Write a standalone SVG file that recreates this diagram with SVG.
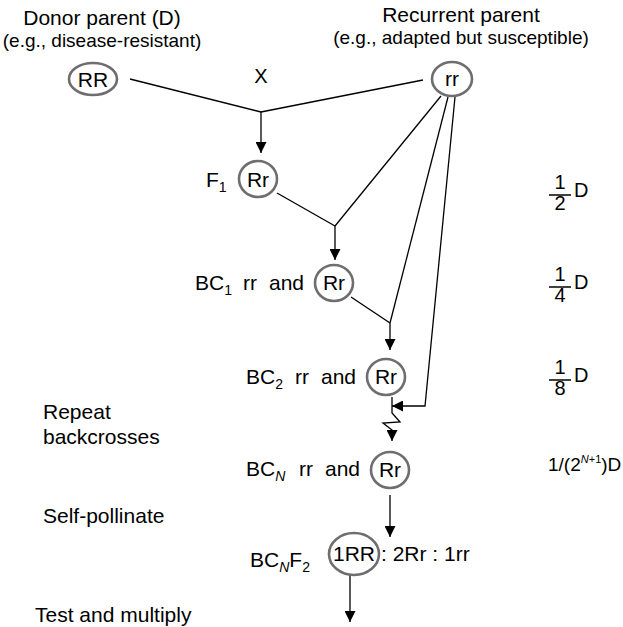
<svg xmlns="http://www.w3.org/2000/svg" width="623" height="627" viewBox="0 0 623 627">
<defs>
<style>
text{font-family:"Liberation Sans",Arial,Helvetica,sans-serif;fill:#000;font-size:21px}
.sub{font-size:19px}
.s{font-size:14px}
.node{fill:none;stroke:#6e6e6e;stroke-width:2.6}
.c{fill:none;stroke:#000;stroke-width:1.3}
.mid{text-anchor:middle}
.fr{font-size:20px}
</style>
<marker id="ah" markerUnits="userSpaceOnUse" markerWidth="11" markerHeight="11" refX="11" refY="5.5" orient="auto" viewBox="0 0 11 11"><path d="M0,0 L11,5.5 L0,11 z" fill="#000"/></marker>
</defs>
<g id="titles">
<text x="102" y="25" class="mid">Donor parent (D)</text>
<text x="102" y="47" class="mid sub">(e.g., disease-resistant)</text>
<text x="461" y="22" class="mid">Recurrent parent</text>
<text x="461" y="44" class="mid sub">(e.g., adapted but susceptible)</text>
<text x="261" y="83" class="mid" style="font-size:20px">X</text>
</g>
<g id="steps">
<text x="43" y="419">Repeat</text>
<text x="43" y="444">backcrosses</text>
<text x="43" y="523">Self-pollinate</text>
<text x="35" y="622">Test and multiply</text>
</g>
<g id="connectors">
<line class="c" x1="130" y1="79" x2="261" y2="112"/>
<line class="c" x1="423" y1="80" x2="261" y2="112"/>
<line class="c" x1="261" y1="112" x2="261" y2="153" marker-end="url(#ah)"/>
<line class="c" x1="277" y1="193" x2="335" y2="226"/>
<line class="c" x1="441" y1="96" x2="335" y2="226"/>
<line class="c" x1="335" y1="226" x2="335" y2="260" marker-end="url(#ah)"/>
<line class="c" x1="351" y1="297" x2="390" y2="323"/>
<line class="c" x1="448" y1="97" x2="390" y2="323"/>
<line class="c" x1="390" y1="323" x2="390" y2="350" marker-end="url(#ah)"/>
<polyline class="c" points="455,97 425,406 392,406" marker-end="url(#ah)"/>
<polyline class="c" points="392,397 392,413 400,422 383,423 392,430 392,441" marker-end="url(#ah)"/>
<line class="c" x1="390" y1="495" x2="390" y2="537" marker-end="url(#ah)"/>
<line class="c" x1="350" y1="575" x2="350" y2="622" marker-end="url(#ah)"/>
</g>
<g id="node-RR">
<ellipse class="node" cx="93" cy="79" rx="24" ry="16"/>
<text x="93" y="87" class="mid">RR</text>
</g>
<g id="node-rr">
<ellipse class="node" cx="452" cy="79" rx="20" ry="17"/>
<text x="452" y="86" class="mid">rr</text>
</g>
<g id="node-F1">
<text x="206" y="187">F<tspan class="s" dy="5">1</tspan></text>
<ellipse class="node" cx="258" cy="179" rx="19" ry="18"/>
<text x="258" y="187" class="mid">Rr</text>
</g>
<g id="node-BC1">
<text x="195" y="290">BC<tspan class="s" dy="5">1</tspan></text>
<text x="243" y="290">rr</text>
<text x="269" y="290">and</text>
<ellipse class="node" cx="334" cy="283" rx="19" ry="18"/>
<text x="334" y="290" class="mid">Rr</text>
</g>
<g id="node-BC2">
<text x="246" y="384">BC<tspan class="s" dy="5">2</tspan></text>
<text x="295" y="384">rr</text>
<text x="321" y="384">and</text>
<ellipse class="node" cx="386" cy="377" rx="19" ry="18"/>
<text x="386" y="384" class="mid">Rr</text>
</g>
<g id="node-BCN">
<text x="246" y="476">BC<tspan class="s" dy="5" font-style="italic">N</tspan></text>
<text x="299" y="476">rr</text>
<text x="325" y="476">and</text>
<ellipse class="node" cx="390" cy="470" rx="19" ry="18"/>
<text x="390" y="477" class="mid">Rr</text>
</g>
<g id="node-BCNF2">
<text x="250" y="567">BC<tspan class="s" dy="5" font-style="italic">N</tspan><tspan dy="-5">F</tspan><tspan class="s" dy="5">2</tspan></text>
<ellipse class="node" cx="354" cy="554" rx="25" ry="21"/>
<text x="354" y="561" class="mid">1RR</text>
<text x="381" y="561">: 2Rr : 1rr</text>
</g>
<g id="fractions">
<text x="560" y="189" class="mid fr">1</text>
<line x1="549" y1="195" x2="571" y2="195" stroke="#000" stroke-width="1.5"/>
<text x="560" y="210" class="mid fr">2</text>
<text x="574" y="197" class="fr">D</text>
<text x="560" y="281" class="mid fr">1</text>
<line x1="549" y1="287" x2="571" y2="287" stroke="#000" stroke-width="1.5"/>
<text x="560" y="302" class="mid fr">4</text>
<text x="574" y="289" class="fr">D</text>
<text x="560" y="374" class="mid fr">1</text>
<line x1="549" y1="380" x2="571" y2="380" stroke="#000" stroke-width="1.5"/>
<text x="560" y="395" class="mid fr">8</text>
<text x="574" y="382" class="fr">D</text>
<text x="548" y="471" style="font-size:19px">1/(2<tspan style="font-size:11px" dy="-8"><tspan font-style="italic">N</tspan>+1</tspan><tspan dy="8">)D</tspan></text>
</g>
</svg>
